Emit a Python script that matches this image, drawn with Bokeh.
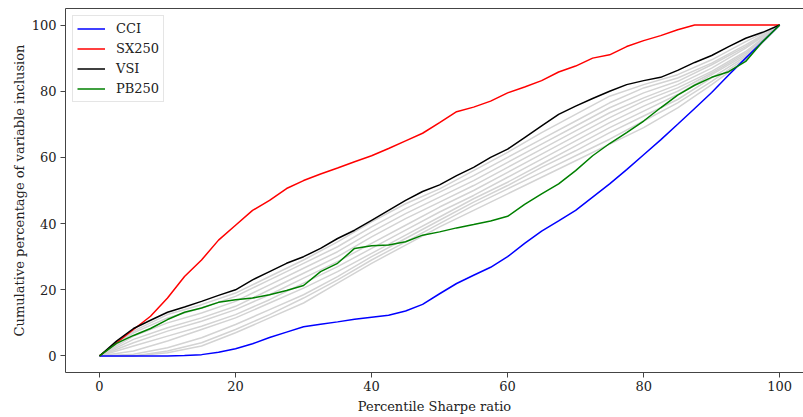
from bokeh.plotting import figure
from bokeh.models import LinearAxis, FixedTicker, Legend, LegendItem, Range1d
from bokeh.embed import file_html
from bokeh.resources import INLINE

# ---------------- data ----------------
x_grid = [0, 2.5, 5, 7.5, 10, 12.5, 15, 17.5, 20, 22.5, 25, 27.5, 30, 32.5, 35, 37.5, 40,
          42.5, 45, 47.5, 50, 52.5, 55, 57.5, 60, 62.5, 65, 67.5, 70, 72.5, 75, 77.5, 80,
          82.5, 85, 87.5, 90, 92.5, 95, 97.5, 100]

cci = [0, 0, 0, 0, 0, 0.1, 0.4, 1.1, 2.2, 3.7, 5.6, 7.2, 8.8, 9.6, 10.3, 11.1, 11.7,
       12.3, 13.6, 15.6, 18.8, 21.9, 24.4, 26.8, 30.0, 34.0, 37.7, 40.8, 44.0, 48.0, 52.0,
       56.3, 60.8, 65.3, 70.0, 74.8, 79.6, 84.9, 90.0, 95.0, 100]

sx250 = [0, 4.0, 8.0, 12.0, 17.5, 24.0, 29.0, 35.0, 39.5, 44.0, 47.0, 50.6, 53.0, 55.0,
         56.8, 58.7, 60.5, 62.7, 65.0, 67.3, 70.5, 73.8, 75.2, 77.0, 79.5, 81.3, 83.2,
         85.8, 87.6, 90.0, 91.0, 93.5, 95.3, 96.8, 98.6, 100, 100, 100, 100, 100, 100]

vsi = [0, 4.5, 8.3, 10.8, 13.2, 14.8, 16.5, 18.3, 20.0, 23.0, 25.5, 28.0, 30.0, 32.5,
       35.5, 38.0, 41.0, 44.0, 47.0, 49.7, 51.7, 54.5, 57.0, 60.0, 62.5, 66.0, 69.5,
       73.0, 75.5, 77.8, 80.0, 82.0, 83.2, 84.2, 86.3, 88.7, 90.8, 93.5, 96.0, 97.8, 100]

pb250 = [0, 3.8, 6.2, 8.3, 11.0, 13.2, 14.5, 16.2, 17.0, 17.5, 18.5, 19.8, 21.3, 25.5,
         28.0, 32.5, 33.3, 33.5, 34.5, 36.5, 37.5, 38.7, 39.7, 40.8, 42.2, 45.8, 49.0,
         52.0, 56.0, 60.5, 64.2, 67.5, 71.0, 75.0, 78.8, 81.8, 84.2, 85.9, 89.0, 95.0, 100]

x_gray = [0, 5, 10, 15, 20, 25, 30, 35, 40, 45, 50, 55, 60, 65, 70, 75, 80, 85, 90, 95, 100]
gray_series = [
    [0, 7.5, 12.5, 15.5, 19, 24, 29, 34.5, 40.5, 46, 50.5, 56, 61.5, 67.5, 73, 78.5, 82, 85, 89.5, 95, 100],
    [0, 7, 11.5, 14.5, 18, 23, 28, 33, 39, 44.5, 49.5, 54.5, 60, 65.5, 71, 76.5, 81, 84, 88.5, 94, 100],
    [0, 6, 10, 13, 16.5, 21.5, 26.5, 31.5, 37.5, 43, 48, 53, 58.5, 64, 69.5, 75, 79.5, 83, 88, 93.5, 100],
    [0, 5, 8.5, 11.5, 15, 20, 25, 30, 36, 41.5, 46.5, 51.5, 57, 62.5, 68, 73.5, 78, 82, 87, 93, 100],
    [0, 4, 7.5, 10.5, 14, 18.5, 23.5, 28.5, 34, 39.5, 45, 50, 55.5, 61, 66.5, 72, 77, 81, 86, 92, 100],
    [0, 3, 6, 9, 12.5, 17, 22, 27, 32.5, 38, 43.5, 48.5, 54, 59.5, 65, 70.5, 75.5, 80, 85.5, 91.5, 100],
    [0, 1.5, 4.5, 8, 11.5, 16, 20.5, 25.5, 31, 36.5, 42, 47.5, 52.5, 58, 63.5, 69, 74, 79, 85, 91, 100],
    [0, 0.5, 2.5, 5.5, 9.5, 14, 18.5, 24, 30, 35.5, 41, 46.5, 51.5, 57, 62, 67.5, 72.5, 77.5, 84, 90.5, 100],
    [0, 0, 1.5, 4, 8, 12.5, 17.5, 23, 29, 34.5, 40, 45.5, 50.5, 55.5, 60.5, 65.5, 71, 76.5, 83, 90, 100],
    [0, 0, 1, 3, 7, 11.5, 16, 22, 28, 33.5, 39, 44, 49, 54, 59, 64, 69, 75, 82, 89.5, 100],
]

series_names = ["CCI", "SX250", "VSI", "PB250"]
series_values = [cci, sx250, vsi, pb250]
series_colors = ["blue", "red", "black", "green"]
tick_values = [0, 20, 40, 60, 80, 100]

FONT = "DejaVu Serif"

p = figure(width=803, height=417, output_backend="svg", toolbar_location=None,
           x_range=Range1d(-5, 103.5), y_range=Range1d(-5, 105),
           min_border_left=65, min_border_right=0, min_border_top=8, min_border_bottom=45,
           x_axis_label="Percentile Sharpe ratio",
           y_axis_label="Cumulative percentage of variable inclusion")
p.outline_line_color = None
p.xgrid.visible = False
p.ygrid.visible = False
p.background_fill_color = "white"
p.border_fill_color = "white"

for ax in [p.xaxis[0], p.yaxis[0]]:
    ax.ticker = FixedTicker(ticks=tick_values)
    ax.minor_tick_line_color = None
    ax.major_tick_in = 0
    ax.major_tick_out = 5
    ax.axis_line_color = "#444444"
    ax.major_tick_line_color = "#444444"
    ax.major_label_text_font = FONT
    ax.major_label_text_font_size = "13px"
    ax.major_label_text_color = "#222222"
    ax.axis_label_text_font = FONT
    ax.axis_label_text_font_size = "13px"
    ax.axis_label_text_font_style = "normal"
    ax.axis_label_text_color = "#222222"

p.xaxis[0].major_label_standoff = 3
p.xaxis[0].axis_label_standoff = 5
p.yaxis[0].major_label_standoff = 4
p.yaxis[0].axis_label_standoff = 2

top = LinearAxis(ticker=FixedTicker(ticks=[]), axis_line_color="#444444",
                 major_tick_line_color=None, minor_tick_line_color=None,
                 major_label_standoff=0)
p.add_layout(top, "above")

for g in gray_series:
    p.line(x_gray, g, line_color="lightgray", line_width=1.5)

items = []
for name, vals, col in zip(series_names, series_values, series_colors):
    r = p.line(x_grid, vals, line_color=col, line_width=1.5)
    items.append(LegendItem(label=name, renderers=[r]))

legend = Legend(items=items, location="top_left", margin=7, padding=4,
                glyph_width=28, glyph_height=17, label_height=17, spacing=3,
                label_standoff=11, label_text_font=FONT, label_text_font_size="13px",
                label_text_color="#222222",
                border_line_color="#cccccc", border_line_width=1,
                background_fill_color="white", background_fill_alpha=0.8)
p.add_layout(legend)

open("out.html", "w").write(file_html(p, INLINE))
